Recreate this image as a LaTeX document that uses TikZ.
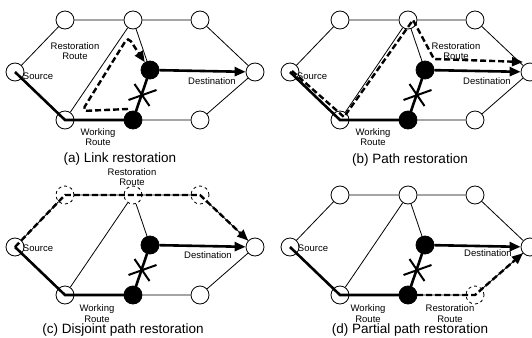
\documentclass[tikz,border=0pt]{standalone}
\usepackage{fontspec}
\setmainfont{Liberation Sans}
\usetikzlibrary{arrows.meta}

\tikzset{
  stn/.style={draw,circle,fill=white,minimum size=18pt,inner sep=0pt,line width=0.8pt},
  hit/.style={stn,fill=black},
  vT1/.style={}, vT2/.style={}, vT3/.style={}, vB3/.style={},
  link/.style={line width=0.8pt},
  work/.style={line width=2.6pt},
  rest/.style={line width=2.4pt,dash pattern=on 6pt off 3pt},
  tip/.style={-{Triangle[length=11pt,width=9pt]}},
  cut/.style={line width=2pt},
  lbl/.style={font=\fontsize{9.5}{10.5}\selectfont,align=center,inner sep=0pt},
  captxt/.style={font=\fontsize{13.5}{15}\selectfont,inner sep=0pt}
}

% the network shared by all four panels
\newcommand{\basenet}{%
  \node[stn,vT1] (T1) at (65,20) {};
  \node[stn,vT2] (T2) at (133,20) {};
  \node[stn,vT3] (T3) at (200,20) {};
  \node[stn] (S) at (15,72) {};
  \node[stn] (D) at (255,72) {};
  \node[stn] (B1) at (65,120) {};
  \node[hit] (B2) at (133,120) {};
  \node[stn,vB3] (B3) at (200,120) {};
  \node[hit] (M) at (150,70) {};
  \draw[link] (S) -- (T1) -- (T2) -- (T3) -- (D) -- (B3) -- (B2);
  \draw[link] (B1) -- (T2) -- (M);
  \coordinate (X) at (141.5,95);
}

\begin{document}
\begin{tikzpicture}[x=1pt,y=-1pt]
  \useasboundingbox (0,0) rectangle (532,337);

  % (a)
  \begin{scope}[name prefix=a-]
    \basenet
    \draw[work] (S.center) -- (B1.center) -- (B2.center) -- (M.center);
    \draw[work,tip] (M) -- (D);
    \draw[rest,tip,rounded corners=5pt] ([shift={(-5,-11)}]B2.center)
      -- ([shift={(17,-9)}]B1.center) -- ([shift={(-5,17)}]T2.center) -- (M);
    \draw[cut] (X) +(-13,5) -- +(15,-5) (X) +(-7,-11) -- +(8,11);
    \node[lbl] (rr) at (75,51) {Restoration\\Route};
    \node[lbl] (src) at (38,76) {Source};
    \node[lbl] (dst) at (212,81) {Destination};
    \node[lbl] (wr) at (98,137) {Working\\Route};
    \node[captxt] (cp) at (120,159) {(a) Link restoration};
  \end{scope}

  % (b)
  \begin{scope}[shift={(275,0)},name prefix=b-]
    \basenet
    \draw[work] (S.center) -- (B1.center) -- (B2.center) -- (M.center);
    \draw[work,tip] (M) -- (D);
    \draw[rest,tip] ([shift={(2,-1)}]S.center) -- ([shift={(4,-3)}]B1.center)
      -- ([shift={(5,0)}]T2.center) -- ([shift={(9,-11)}]M.center)
      -- ([shift={(-7,-10)}]D.center);
    \draw[cut] (X) +(-13,5) -- +(15,-5) (X) +(-7,-11) -- +(8,11);
    \node[lbl] (rr) at (181,51) {Restoration\\Route};
    \node[lbl] (src) at (37,76) {Source};
    \node[lbl] (dst) at (212,81) {Destination};
    \node[lbl] (wr) at (98,137) {Working\\Route};
    \node[captxt] (cp) at (135,160) {(b) Path restoration};
  \end{scope}

  % (c)
  \begin{scope}[shift={(0,175)},name prefix=c-,
      vT1/.style={dashed},vT2/.style={dashed},vT3/.style={dashed}]
    \basenet
    \draw[work] (S.center) -- (B1.center) -- (B2.center) -- (M.center);
    \draw[work,tip] (M) -- (D);
    \draw[rest,tip] (S.center) -- (T1.center) -- (T2.center) -- (T3.center) -- (D);
    \draw[cut] (X) +(-13,5) -- +(15,-5) (X) +(-7,-11) -- +(8,11);
    \node[lbl] (rr) at (132,2) {Restoration\\Route};
    \node[lbl] (src) at (38,73) {Source};
    \node[lbl] (dst) at (208,80) {Destination};
    \node[lbl] (wr) at (97,138.5) {Working\\Route};
    \node[captxt] (cp) at (123,155) {(c) Disjoint path restoration};
  \end{scope}

  % (d)
  \begin{scope}[shift={(275,175)},name prefix=d-,vB3/.style={dashed}]
    \basenet
    \draw[work] (S.center) -- (B1.center) -- (B2.center) -- (M.center);
    \draw[work,tip] (M) -- (D);
    \draw[rest,tip] (B2.center) -- (B3.center) -- (D);
    \draw[cut] (X) +(-13,5) -- +(15,-5) (X) +(-7,-11) -- +(8,11);
    \node[lbl] (src) at (38,73) {Source};
    \node[lbl] (dst) at (213,78) {Destination};
    \node[lbl] (wr) at (93,138.5) {Working\\Route};
    \node[lbl] (rr) at (175,138.5) {Restoration\\Route};
    \node[captxt] (cp) at (135,155) {(d) Partial path restoration};
  \end{scope}
\end{tikzpicture}
\end{document}
